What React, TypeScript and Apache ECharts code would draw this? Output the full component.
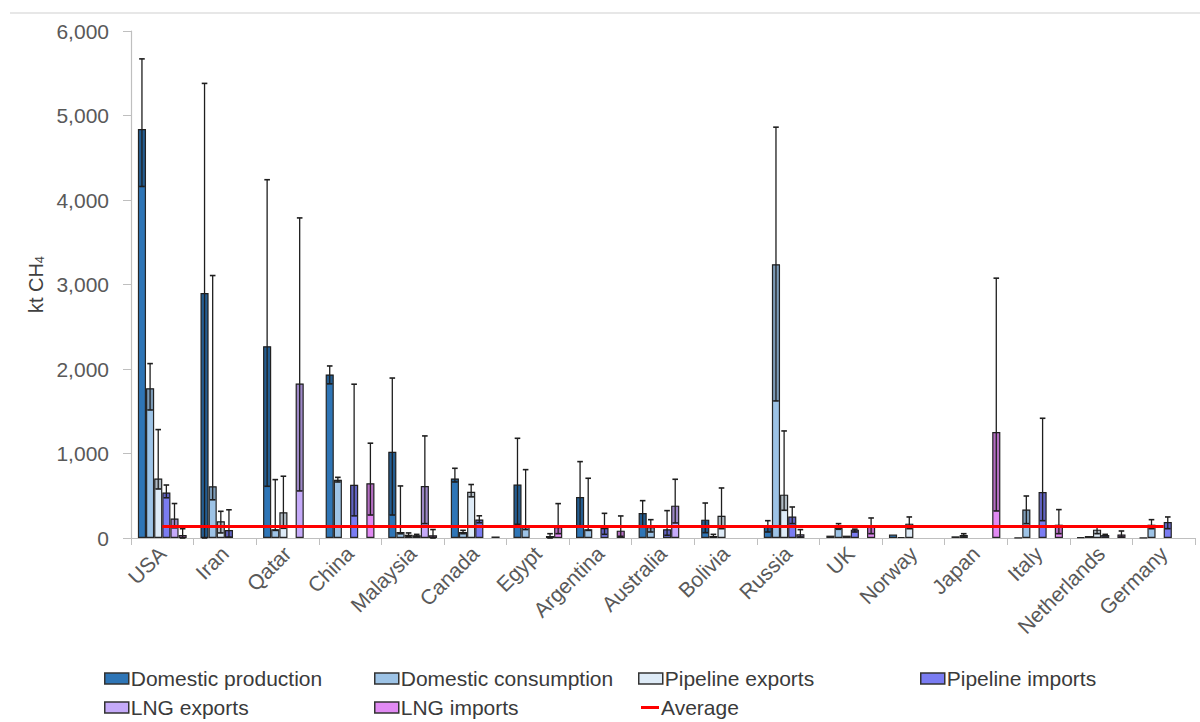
import React, { useEffect, useRef } from "react";
import * as echarts from "echarts";

// Countries on the category axis
const countries = [
  "USA", "Iran", "Qatar", "China", "Malaysia", "Canada", "Egypt", "Argentina",
  "Australia", "Bolivia", "Russia", "UK", "Norway", "Japan", "Italy", "Netherlands", "Germany",
];

// Methane emissions (kt CH4) with lower / upper uncertainty bounds; null = no bar
const domesticProduction = [4840, 2900, 2270, 1935, 1020, 705, 632, 486, 296, 217, 138, 28, 40, 20, 5, 8, 5];
const domesticProductionLow = [4160, 0, 612, 1824, 272, 663, 162, 130, 130, 63, 71, null, null, null, null, null, null];
const domesticProductionHigh = [5670, 5380, 4240, 2036, 1893, 825, 1180, 904, 442, 414, 205, null, null, null, null, null, null];

const domesticConsumption = [1772, 612, 105, 690, 71, 71, 154, 103, 130, 24, 3240, 122, 12, 36, 336, 24, 158];
const domesticConsumptionLow = [1515, 452, 90, 663, 50, 51, 100, 90, 71, 10, 1622, 103, null, 12, 170, null, 110];
const domesticConsumptionHigh = [2064, 3106, 691, 718, 616, 91, 809, 707, 217, 43, 4862, 170, null, 51, 497, null, 217];

const pipelineExports = [704, 198, 305, null, 38, 546, null, null, null, 264, 513, 28, 170, null, null, 99, null];
const pipelineExportsLow = [580, 60, 115, null, 20, 487, null, null, null, 110, 328, null, 110, null, null, 51, null];
const pipelineExportsHigh = [1283, 316, 731, null, 60, 633, null, null, null, 592, 1267, null, 249, null, null, 130, null];

const pipelineImports = [539, 95, null, 630, 32, 219, null, 118, 103, null, 253, 99, null, null, 545, 36, 190];
const pipelineImportsLow = [476, 10, null, 262, 20, 180, null, 43, 32, null, 170, 71, null, null, 205, 24, 110];
const pipelineImportsHigh = [627, 334, null, 1820, 43, 263, null, 292, 324, null, 367, 105, null, null, 1417, 43, 249];

const lngExports = [230, null, 1828, null, 616, null, 24, null, 383, null, 43, null, null, null, null, null, null];
const lngExportsLow = [120, null, 557, null, 170, null, 0, null, 178, null, 12, null, null, null, null, null, null];
const lngExportsHigh = [408, null, 3788, null, 1208, null, 51, null, 695, null, 99, null, null, null, null, null, null];

const lngImports = [36, null, null, 648, 32, 18, 130, 87, null, null, null, 138, null, 1255, 158, 40, null];
const lngImportsLow = [0, null, null, 272, 0, null, 51, 20, null, null, null, 51, null, 320, 51, 12, null];
const lngImportsHigh = [110, null, null, 1122, 100, null, 407, 261, null, null, null, 237, null, 3075, 336, 83, null];

const averageValue = 135;

const yMin = 0;
const yMax = 6000;
const yStep = 1000;

const FONT = "'Liberation Sans', Arial, Helvetica, sans-serif";
const CATEGORY_GAP = 0.22;

type Group = {
  name: string;
  color: string;
  values: (number | null)[];
  low: (number | null)[];
  high: (number | null)[];
};

const groups: Group[] = [
  { name: "Domestic production", color: "#2e75b6", values: domesticProduction, low: domesticProductionLow, high: domesticProductionHigh },
  { name: "Domestic consumption", color: "#9dc3e6", values: domesticConsumption, low: domesticConsumptionLow, high: domesticConsumptionHigh },
  { name: "Pipeline exports", color: "#deebf7", values: pipelineExports, low: pipelineExportsLow, high: pipelineExportsHigh },
  { name: "Pipeline imports", color: "#7a7cf2", values: pipelineImports, low: pipelineImportsLow, high: pipelineImportsHigh },
  { name: "LNG exports", color: "#c5aaf9", values: lngExports, low: lngExportsLow, high: lngExportsHigh },
  { name: "LNG imports", color: "#e18af3", values: lngImports, low: lngImportsLow, high: lngImportsHigh },
];

function buildOption() {
  const barSeries = groups.map((g) => ({
    name: g.name,
    type: "bar",
    data: g.values,
    barGap: "0%",
    barCategoryGap: `${CATEGORY_GAP * 100}%`,
    itemStyle: { color: g.color, borderColor: "#262626", borderWidth: 1.2 },
    z: 2,
  }));

  // Uncertainty whiskers, centred on each bar's slot within its category
  const errorSeries = groups.map((g, k) => {
    const data: number[][] = [];
    g.values.forEach((v, i) => {
      const lo = g.low[i];
      const hi = g.high[i];
      if (v != null && lo != null && hi != null) data.push([i, v, lo, hi]);
    });
    return {
      name: g.name + " error",
      type: "custom",
      data,
      encode: { x: 0, y: [1, 2, 3] },
      z: 4,
      silent: true,
      renderItem: (_params: any, api: any) => {
        const idx = api.value(0);
        const val = api.value(1);
        const lo = api.value(2);
        const hi = api.value(3);
        const top = api.coord([idx, val]);
        const band = api.size([1, 0])[0];
        const bw = (band * (1 - CATEGORY_GAP)) / groups.length;
        const cx = top[0] + (k - (groups.length - 1) / 2) * bw;
        const yLo = api.coord([idx, lo])[1];
        const yHi = api.coord([idx, hi])[1];
        const cap = 2.8;
        const stroke = { stroke: "#1e1e1e", lineWidth: 1.3 };
        return {
          type: "group",
          children: [
            {
              type: "rect",
              shape: { x: cx - bw / 2 + 0.6, y: top[1], width: bw - 1.2, height: Math.max(0, yLo - top[1]) },
              style: { fill: "rgba(0,0,0,0.2)" },
            },
            { type: "line", shape: { x1: cx, y1: yHi, x2: cx, y2: yLo }, style: stroke },
            { type: "line", shape: { x1: cx - cap, y1: yHi, x2: cx + cap, y2: yHi }, style: { ...stroke, lineWidth: 1.6 } },
            { type: "line", shape: { x1: cx - cap, y1: yLo, x2: cx + cap, y2: yLo }, style: { ...stroke, lineWidth: 1.6 } },
          ],
        };
      },
    };
  });

  const averageSeries = {
    name: "Average",
    type: "line",
    data: countries.map(() => averageValue),
    symbol: "none",
    color: "#ff0000",
    lineStyle: { color: "#ff0000", width: 3 },
    itemStyle: { color: "#ff0000" },
    z: 6,
  };

  const legendSlots = [
    { name: "Domestic production", left: 104, top: 668 },
    { name: "Domestic consumption", left: 374, top: 668 },
    { name: "Pipeline exports", left: 638, top: 668 },
    { name: "Pipeline imports", left: 920, top: 668 },
    { name: "LNG exports", left: 104, top: 697 },
    { name: "LNG imports", left: 374, top: 697 },
  ];

  const legends: any[] = legendSlots.map((s) => ({
    data: [s.name],
    left: s.left,
    top: s.top,
    padding: 0,
    itemWidth: 24,
    itemHeight: 11,
    icon: "rect",
    itemStyle: { borderColor: "#333", borderWidth: 1.5 },
    textStyle: { fontFamily: FONT, fontSize: 21, color: "#3a3a3a", padding: [0, 0, 0, -3] },
  }));
  legends.push({
    data: [{ name: "Average", icon: "rect", itemStyle: { color: "#ff0000", borderWidth: 0 } }],
    left: 641,
    top: 697,
    padding: 0,
    itemWidth: 18,
    itemHeight: 3,
    textStyle: { fontFamily: FONT, fontSize: 21, color: "#3a3a3a", padding: [0, 0, 0, -3] },
  });

  return {
    animation: false,
    backgroundColor: "#ffffff",
    textStyle: { fontFamily: FONT },
    grid: { left: 131, right: 5, top: 31, bottom: 184, containLabel: false },
    legend: legends,
    graphic: [
      {
        type: "line",
        shape: { x1: 10, y1: 13, x2: 1200, y2: 13 },
        style: { stroke: "#cfcfcf", lineWidth: 1 },
        silent: true,
      },
    ],
    xAxis: {
      type: "category",
      data: countries,
      boundaryGap: true,
      axisLine: { lineStyle: { color: "#bfbfbf", width: 1.2 } },
      axisTick: { show: true, length: 7, alignWithLabel: false, lineStyle: { color: "#bfbfbf" } },
      axisLabel: {
        interval: 0,
        rotate: 45,
        margin: 12,
        fontFamily: FONT,
        fontSize: 21,
        color: "#595959",
      },
    },
    yAxis: {
      type: "value",
      min: yMin,
      max: yMax,
      interval: yStep,
      name: "{a|kt CH}{b|4}",
      nameLocation: "middle",
      nameGap: 84,
      nameRotate: 90,
      nameTextStyle: {
        rich: {
          a: { fontFamily: FONT, fontSize: 20, color: "#404040" },
          b: { fontFamily: FONT, fontSize: 13, color: "#404040", padding: [7, 0, 0, 0] },
        },
      },
      axisLine: { show: true, lineStyle: { color: "#bfbfbf", width: 1.2 } },
      axisTick: { show: true, length: 8, lineStyle: { color: "#bfbfbf" } },
      splitLine: { show: false },
      axisLabel: {
        margin: 22,
        fontFamily: FONT,
        fontSize: 21,
        color: "#595959",
        formatter: (v: number) => v.toLocaleString("en-US"),
      },
    },
    series: [...barSeries, ...errorSeries, averageSeries],
  };
}

export default function App() {
  const ref = useRef<HTMLDivElement | null>(null);
  useEffect(() => {
    if (!ref.current) return;
    const chart = echarts.init(ref.current, null, { renderer: "svg" });
    chart.setOption(buildOption() as any);
    return () => chart.dispose();
  }, []);
  return (
    <div
      ref={ref}
      style={{ position: "fixed", left: 0, top: 0, width: 1200, height: 722, background: "#fff" }}
    />
  );
}
